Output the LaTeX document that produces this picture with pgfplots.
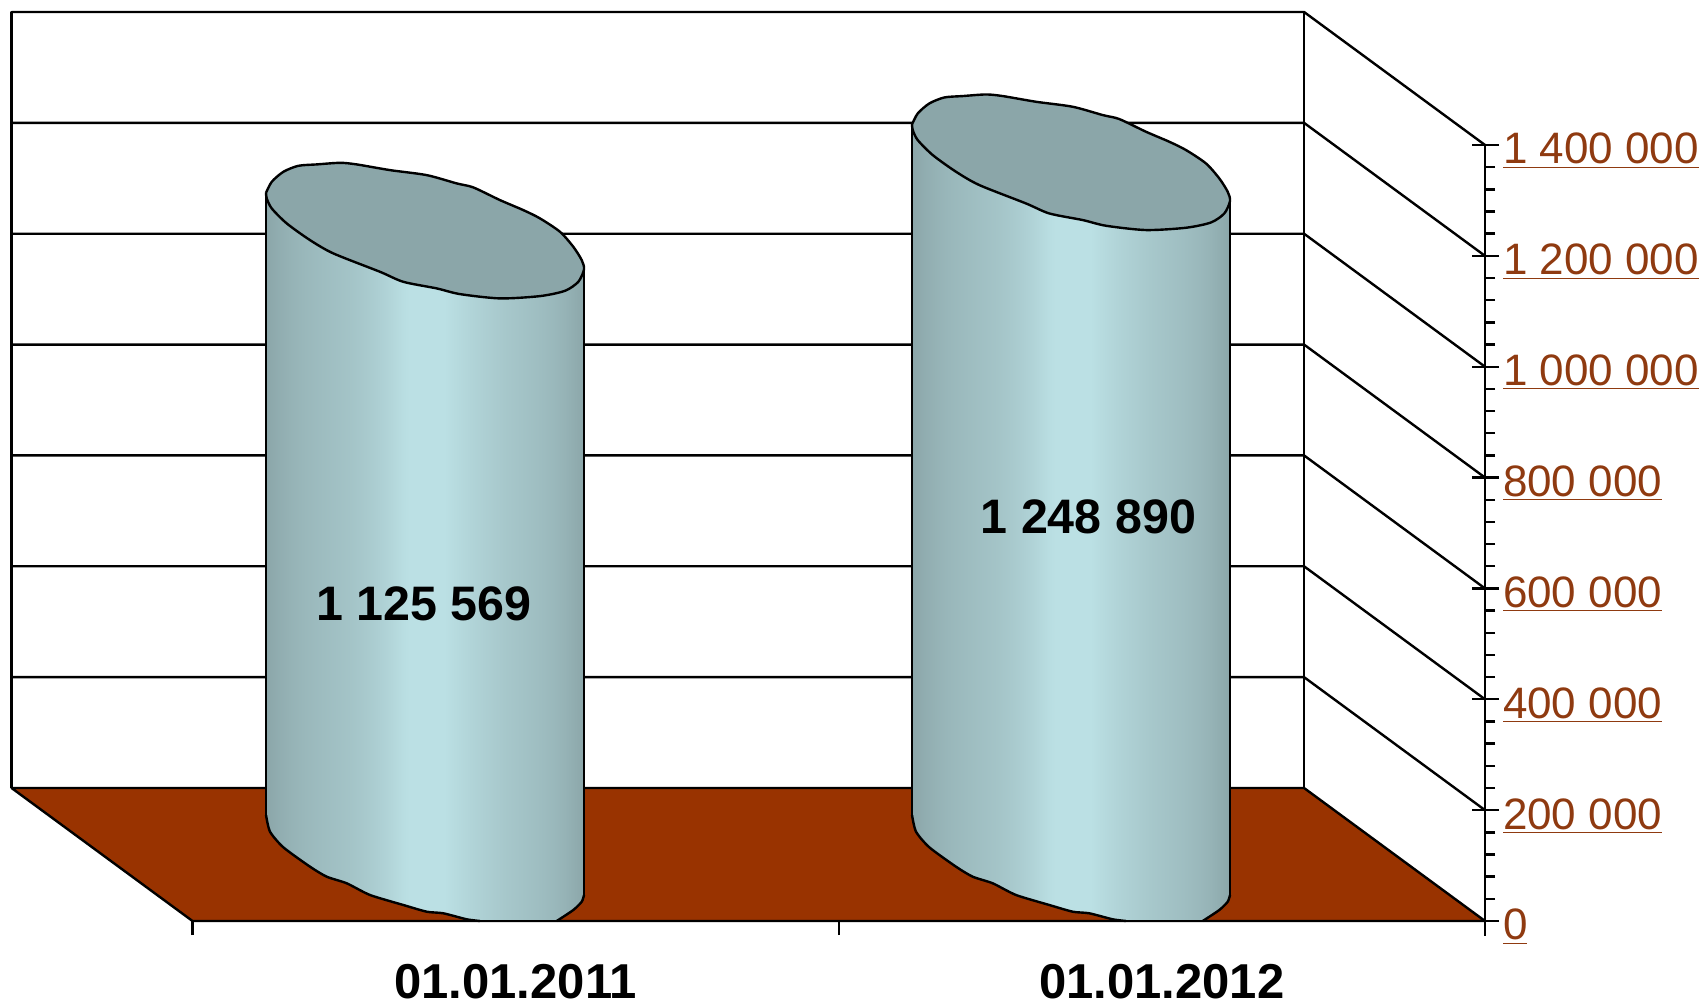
\documentclass[border=0pt]{standalone}
\usepackage{fontspec}
\setmainfont{Liberation Sans}
\usepackage{pgfplots}
\usepackage{pgfplotstable}
\pgfplotsset{compat=1.18}
\definecolor{floorc}{HTML}{993300}
\definecolor{labc}{HTML}{8F3A10}
\definecolor{topc}{HTML}{8BA6A9}
\definecolor{dk}{HTML}{8BA6A9}
\definecolor{pk}{HTML}{BBE0E4}
\pgfdeclarehorizontalshading{cyl}{100bp}{
color(0bp)=(dk);color(25bp)=(dk);
color(27bp)=(pk!12!dk);color(29bp)=(pk!22!dk);color(31bp)=(pk!30!dk);color(33.5bp)=(pk!38!dk);
color(36bp)=(pk!45!dk);color(38.5bp)=(pk!52!dk);color(41bp)=(pk!62!dk);color(44bp)=(pk!78!dk);color(46.5bp)=(pk!95!dk);
color(47.5bp)=(pk);color(53bp)=(pk);color(55bp)=(pk!90!dk);color(57.5bp)=(pk!78!dk);color(60bp)=(pk!68!dk);
color(62.5bp)=(pk!58!dk);color(65bp)=(pk!50!dk);color(67.5bp)=(pk!42!dk);color(70bp)=(pk!32!dk);color(72bp)=(pk!22!dk);
color(74bp)=(pk!8!dk);color(75bp)=(dk);color(100bp)=(dk)}
\pgfplotstableread{
dx dy
-159 37.3
-153.3 48.3
-141.7 58.3
-126.7 64.3
-108.3 65.7
-85 67.3
-68.3 65.7
-35 60
1.7 55
31.7 46.7
48.3 42.7
75 30
98.3 20
115 11.7
135 -1.7
148.3 -16.7
156.7 -30
159 -39.3
153.3 -51.7
140 -60.7
115 -66
75 -68.3
35 -64
11.7 -58.3
-21.7 -51.7
-45 -41.7
-91.7 -23.3
-115 -10
-138.3 6.7
-153.3 21.7
-158.3 31.7
-159 37.3
}\topT
\pgfplotstableread{
dx k h
-159 1 104.3
159 1 27.7
159 0 26
156.7 0 19.3
148.3 0 11
131.7 0 0
55 0 0
41.7 0 1.7
18.3 0 7.7
1.7 0 9.3
-21.7 0 16
-55 0 26
-78.3 0 37.7
-98.3 0 44.3
-115 0 54.3
-141.7 0 73.7
-155 0 89.3
-159 0 106
-159 1 104.3
}\bodyT
\pgfplotstableread{
dx h
159 26
156.7 19.3
148.3 11
131.7 0
}\baseR
\pgfplotstableread{
dx h
55 0
41.7 1.7
18.3 7.7
1.7 9.3
-21.7 16
-55 26
-78.3 37.7
-98.3 44.3
-115 54.3
-141.7 73.7
-155 89.3
-159 106
}\baseL
\begin{document}
\begin{tikzpicture}
\useasboundingbox (-96.25pt,-40.5pt) rectangle (755.75pt,460.5pt);
\begin{axis}[
  scale only axis, width=646.25pt, height=388pt,
  xmin=-0.5, xmax=1.5, ymin=0, ymax=1400000,
  clip=false, axis on top,
  axis x line=bottom, axis y line=right,
  axis line style={-, line width=1.4pt},
  xtick={-0.5,0.5,1.5}, x tick label as interval,
  xticklabels={01.01.2011,01.01.2012},
  xticklabel style={font=\fontsize{24.5}{28}\selectfont\bfseries, text=black, inner ysep=0pt, yshift=-14.6pt},
  ytick={0,200000,400000,600000,800000,1000000,1200000,1400000},
  minor y tick num=4,
  tick align=outside,
  major tick length=7pt, minor tick length=5pt,
  tick style={black, line width=1.2pt},
  yticklabel={\underline{\pgfmathprintnumber{\tick}}},
  yticklabel style={anchor=west, text=labc, font=\fontsize{22}{25}\selectfont, inner sep=0pt, xshift=1.8pt, yshift=-2.9pt,
    /pgf/number format/fixed, /pgf/number format/precision=0,
    /pgf/number format/assume math mode=true, /pgf/number format/1000 sep={\ }},
  scaled y ticks=false,
  every axis plot/.append style={line width=1.2pt, line join=round},
]
% back wall
\addplot[fill=white, draw=black] coordinates {(-0.78,239950) (1.22,239950) (1.22,1639950) (-0.78,1639950) (-0.78,239950)};
% grid on wall and side
\addplot[black] coordinates {(-0.78,439950) (1.22,439950) (1.5,200000)};
\addplot[black] coordinates {(-0.78,639950) (1.22,639950) (1.5,400000)};
\addplot[black] coordinates {(-0.78,839950) (1.22,839950) (1.5,600000)};
\addplot[black] coordinates {(-0.78,1039950) (1.22,1039950) (1.5,800000)};
\addplot[black] coordinates {(-0.78,1239950) (1.22,1239950) (1.5,1000000)};
\addplot[black] coordinates {(-0.78,1439950) (1.22,1439950) (1.5,1200000)};
\addplot[black] coordinates {(-0.78,1639950) (1.22,1639950) (1.5,1400000)};
% floor
\addplot[fill=floorc, draw=black] coordinates {(-0.5,0) (1.5,0) (1.22,239950) (-0.78,239950) (-0.5,0)};
% axis extension below 0, left halves of the major ticks
\addplot[black, line width=1.4pt] coordinates {(1.5,0) (1.5,-27000)};
\pgfplotsinvokeforeach{0,200000,400000,600000,800000,1000000,1200000,1400000}{
  \addplot[black] coordinates {(1.4799,#1) (1.5,#1)};
}
% bar 1
\addplot[shading=cyl, shade, draw=none] table[x expr=-0.1402+\thisrow{dx}/646.25, y expr=1125569*\thisrow{k}+\thisrow{h}*1804] {\bodyT};
\addplot[black, smooth, tension=0.4] table[x expr=-0.1402+\thisrow{dx}/646.25, y expr=\thisrow{h}*1804] {\baseR};
\addplot[black, smooth, tension=0.4] table[x expr=-0.1402+\thisrow{dx}/646.25, y expr=\thisrow{h}*1804] {\baseL};
\addplot[black] coordinates {(-0.3862,191224) (-0.3862,1313000)};
\addplot[black] coordinates {(0.1058,46904) (0.1058,1175500)};
\addplot[fill=topc, draw=black, smooth, tension=0.45] table[x expr=-0.1402+\thisrow{dx}/646.25, y expr=1125569+(67+\thisrow{dy})*1804] {\topT};
% bar 2
\addplot[shading=cyl, shade, draw=none] table[x expr=0.8594+\thisrow{dx}/646.25, y expr=1248890*\thisrow{k}+\thisrow{h}*1804] {\bodyT};
\addplot[black, smooth, tension=0.4] table[x expr=0.8594+\thisrow{dx}/646.25, y expr=\thisrow{h}*1804] {\baseR};
\addplot[black, smooth, tension=0.4] table[x expr=0.8594+\thisrow{dx}/646.25, y expr=\thisrow{h}*1804] {\baseL};
\addplot[black] coordinates {(0.6134,191224) (0.6134,1436000)};
\addplot[black] coordinates {(1.1054,46904) (1.1054,1298800)};
\addplot[fill=topc, draw=black, smooth, tension=0.45] table[x expr=0.8594+\thisrow{dx}/646.25, y expr=1248890+(67+\thisrow{dy})*1804] {\topT};
\node[font=\fontsize{24.2}{28}\selectfont\bfseries] at (axis cs:-0.1422,571900) {1 125 569};
\node[font=\fontsize{24.2}{28}\selectfont\bfseries] at (axis cs:0.8863,728800) {1 248 890};
\end{axis}
\end{tikzpicture}
\end{document}
